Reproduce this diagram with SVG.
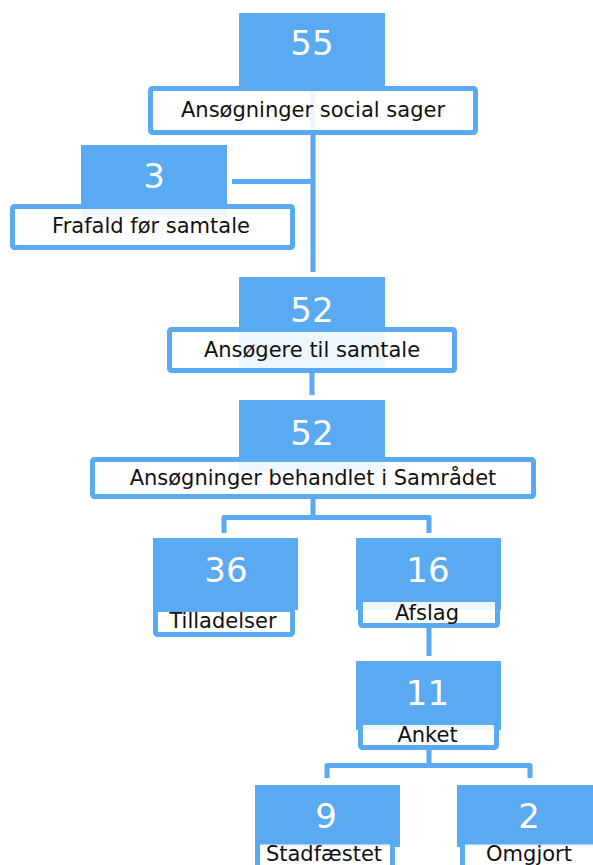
<svg xmlns="http://www.w3.org/2000/svg" width="593" height="865" viewBox="0 0 593 865">
<style>
.blk{fill:#5AAAF2}
.lbl{fill:#FFFFFF;fill-opacity:0.9;stroke:#5AAAF2;stroke-width:5;}
.num{font-family:"DejaVu Sans",Verdana,sans-serif;font-size:34px;fill:#FFFFFF;text-anchor:middle}
.txt{font-family:"DejaVu Sans",Verdana,sans-serif;font-size:21px;fill:#111111;text-anchor:middle}
.con{fill:none;stroke:#5AAAF2;stroke-width:5;stroke-linejoin:round}
</style>
<rect width="593" height="865" fill="#FFFFFF"/>
<g id="connectors">
<path class="con" d="M313 13V272"/>
<path class="con" d="M232 181.5H313"/>
<path class="con" d="M312 373V395"/>
<path class="con" d="M313 499V517.5M224 533V517.5H429V533"/>
<path class="con" d="M429 628V656"/>
<path class="con" d="M429 748V765.5M327 778V765.5H530V778"/>
</g>
<g id="n1">
<rect class="blk" x="239" y="13" width="146" height="74"/>
<rect class="lbl" x="150.5" y="88.5" width="325" height="44" rx="2"/>
<text class="num" x="312" y="55">55</text>
<text class="txt" x="313" y="117">Ansøgninger social sager</text>
</g>
<g id="n2">
<rect class="blk" x="81" y="145" width="146" height="72"/>
<rect class="lbl" x="12.5" y="206.5" width="280" height="41" rx="2"/>
<text class="num" x="154" y="188">3</text>
<text class="txt" x="151" y="233">Frafald før samtale</text>
</g>
<g id="n3">
<rect class="blk" x="239" y="277" width="146" height="94"/>
<rect class="lbl" x="169.5" y="329.5" width="285" height="41" rx="2"/>
<text class="num" x="312" y="322">52</text>
<text class="txt" x="312" y="357">Ansøgere til samtale</text>
</g>
<g id="n4">
<rect class="blk" x="239" y="400" width="146" height="72"/>
<rect class="lbl" x="92.5" y="459.5" width="441" height="37" rx="2"/>
<text class="num" x="312" y="445">52</text>
<text class="txt" x="313" y="485">Ansøgninger behandlet i Samrådet</text>
</g>
<g id="n5">
<rect class="blk" x="153" y="538" width="145" height="72"/>
<rect class="lbl" x="155.5" y="609.5" width="137" height="25" rx="2"/>
<text class="num" x="226" y="582">36</text>
<text class="txt" x="223" y="628">Tilladelser</text>
</g>
<g id="n6">
<rect class="blk" x="356" y="538" width="145" height="72"/>
<rect class="lbl" x="360.5" y="599.5" width="137" height="26" rx="2"/>
<text class="num" x="428" y="582">16</text>
<text class="txt" x="427" y="620">Afslag</text>
</g>
<g id="n7">
<rect class="blk" x="356" y="661" width="145" height="69"/>
<rect class="lbl" x="360.5" y="722.5" width="136" height="25" rx="2"/>
<text class="num" x="427.5" y="705">11</text>
<text class="txt" x="427.5" y="742">Anket</text>
</g>
<g id="n8">
<rect class="blk" x="255" y="785" width="145" height="62"/>
<rect class="lbl" x="257.5" y="842" width="135" height="30" rx="2"/>
<text class="num" x="326" y="828">9</text>
<text class="txt" x="324" y="861">Stadfæstet</text>
</g>
<g id="n9">
<rect class="blk" x="457" y="785" width="145" height="62"/>
<rect class="lbl" x="462.5" y="842" width="135" height="30" rx="2"/>
<text class="num" x="529" y="828">2</text>
<text class="txt" x="529" y="861">Omgjort</text>
</g>
</svg>
